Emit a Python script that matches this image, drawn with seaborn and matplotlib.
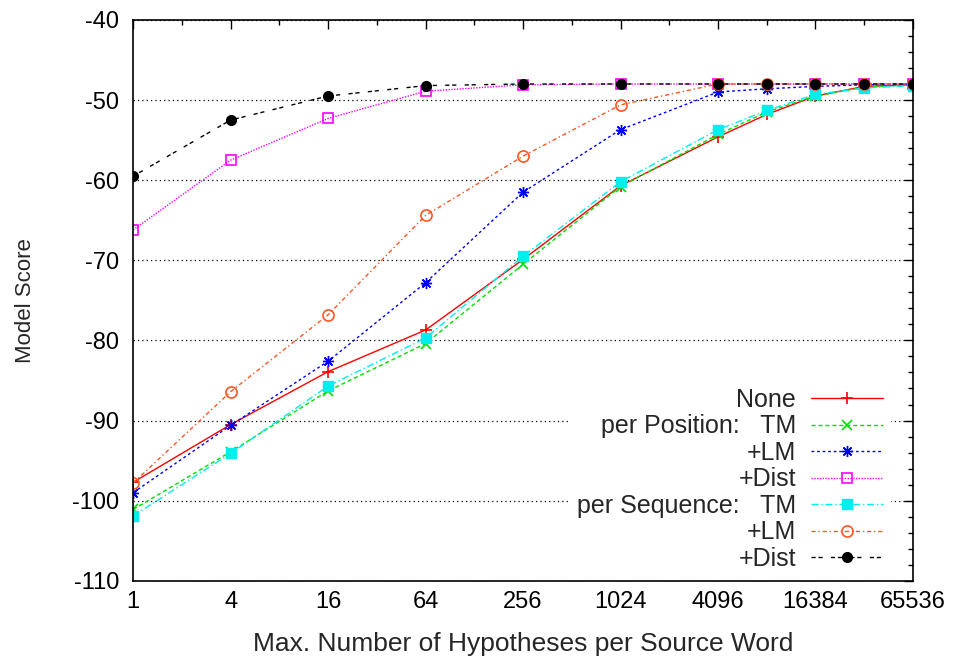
import numpy as np
import pandas as pd
import seaborn as sns
import matplotlib.pyplot as plt
from matplotlib.ticker import FixedLocator, FixedFormatter, NullFormatter

# --- data ---
hyps = [1, 4, 16, 64, 256, 1024, 4096, 8192, 16384, 32768, 65536]
hyps_pos_dist = [1, 4, 16, 64, 256, 1024, 4096, 16384, 32768, 65536]

none_scores = [-97.7, -90.5, -83.9, -78.7, -69.9, -60.7, -54.6, -51.8, -49.5, -48.3, -48.1]
pos_tm = [-101.1, -93.9, -86.3, -80.4, -70.5, -60.8, -54.3, -51.5, -49.5, -48.4, -48.1]
pos_lm = [-99.0, -90.6, -82.6, -72.8, -61.5, -53.7, -49.0, -48.6, -48.3, -48.1, -48.0]
pos_dist = [-66.2, -57.5, -52.3, -48.9, -48.1, -48.0, -48.0, -48.0, -48.0, -48.0]
seq_tm = [-101.9, -94.1, -85.7, -79.7, -69.5, -60.2, -53.7, -51.3, -49.3, -48.5, -48.2]
seq_lm = [-97.8, -86.4, -76.8, -64.4, -57.0, -50.6, -48.0, -48.0, -48.0, -48.0, -48.0]
seq_dist = [-59.5, -52.5, -49.5, -48.2, -48.0, -48.0, -48.0, -48.0, -48.0, -48.0, -48.0]

labels = ['None', 'per Position:   TM', '+LM', '+Dist',
          'per Sequence:   TM', '+LM', '+Dist']
x_ticks = [1, 4, 16, 64, 256, 1024, 4096, 16384, 65536]
y_ticks = [-110, -100, -90, -80, -70, -60, -50, -40]

sns.set_theme(style='white')
plt.rcParams['font.family'] = ['Liberation Sans', 'DejaVu Sans']
plt.rcParams['axes.unicode_minus'] = False

fig = plt.figure(figsize=(9.58, 6.63), dpi=100)
ax = fig.add_axes([0.139, 0.124, 0.814, 0.846])

series = [
    (hyps, none_scores, dict(color='#ff0000', linestyle='-', marker='+', markersize=9,
                             markeredgecolor='#ff0000', markeredgewidth=1.2)),
    (hyps, pos_tm, dict(color='#00e000', linestyle=(0, (3, 2)), marker='x', markersize=7,
                        markeredgecolor='#00e000', markeredgewidth=1.2)),
    (hyps, pos_lm, dict(color='#0000ff', linestyle=(0, (2, 2)), marker=(8, 2, 0), markersize=8,
                        markeredgecolor='#0000ff', markeredgewidth=1.0)),
    (hyps_pos_dist, pos_dist, dict(color='#ff00ff', linestyle=(0, (1, 1)), marker='s', markersize=7,
                                   fillstyle='none', markeredgecolor='#ff00ff', markeredgewidth=1.2)),
    (hyps, seq_tm, dict(color='#00eeee', linestyle=(0, (5, 2, 1, 2)), marker='s', markersize=7,
                        markeredgecolor='#00eeee', markeredgewidth=1.0)),
    (hyps, seq_lm, dict(color='#ff5522', linestyle=(0, (3, 2, 1, 2)), marker='o', markersize=8,
                        fillstyle='none', markeredgecolor='#ff5522', markeredgewidth=1.2)),
    (hyps, seq_dist, dict(color='#000000', linestyle=(0, (3, 2, 3, 6)), marker='o', markersize=7,
                          markeredgecolor='#000000', markeredgewidth=1.0)),
]

for (xs, ys, style), lab in zip(series, labels):
    sns.lineplot(x=xs, y=ys, ax=ax, label=lab, linewidth=1.0, errorbar=None,
                 sort=False, **style)

ax.set_xscale('log', base=2)
ax.set_xlim(1, 65536)
ax.set_ylim(-110, -40)
ax.xaxis.set_major_locator(FixedLocator(x_ticks))
ax.xaxis.set_major_formatter(FixedFormatter([str(v) for v in x_ticks]))
ax.xaxis.set_minor_locator(FixedLocator([2 ** k for k in range(1, 16, 2)]))
ax.xaxis.set_minor_formatter(NullFormatter())
ax.yaxis.set_major_locator(FixedLocator(y_ticks))
ax.set_yticklabels([str(v) for v in y_ticks])
ax.yaxis.set_minor_locator(FixedLocator(np.arange(-110, -39, 2)))
ax.yaxis.set_minor_formatter(NullFormatter())

ax.tick_params(which='both', direction='in', top=True, right=True,
               labelsize=17, colors='black')
ax.tick_params(axis='x', pad=7)
ax.tick_params(axis='y', pad=10)
ax.tick_params(which='major', length=6.5, width=1)
ax.tick_params(which='minor', length=3.5, width=1)
for sp in ax.spines.values():
    sp.set_color('black')
    sp.set_linewidth(1.2)

ax.yaxis.grid(True, which='major', color='black', linestyle=(0, (1, 2.5)), linewidth=0.9)
ax.set_axisbelow(True)

ax.set_xlabel('Max. Number of Hypotheses per Source Word', fontsize=19)
ax.set_ylabel('Model Score', fontsize=16)
ax.xaxis.set_label_coords(0.5, -0.092)
ax.yaxis.set_label_coords(-0.124, 0.5)

leg = ax.legend(loc='lower right', bbox_to_anchor=(0.975, 0.0), markerfirst=False,
                fontsize=18, handlelength=2.9, handletextpad=0.6, labelspacing=0.1,
                borderpad=0.3, borderaxespad=0.1, frameon=True, fancybox=False,
                facecolor='white', edgecolor='none', framealpha=1.0)

plt.savefig('out.png', dpi=100)
